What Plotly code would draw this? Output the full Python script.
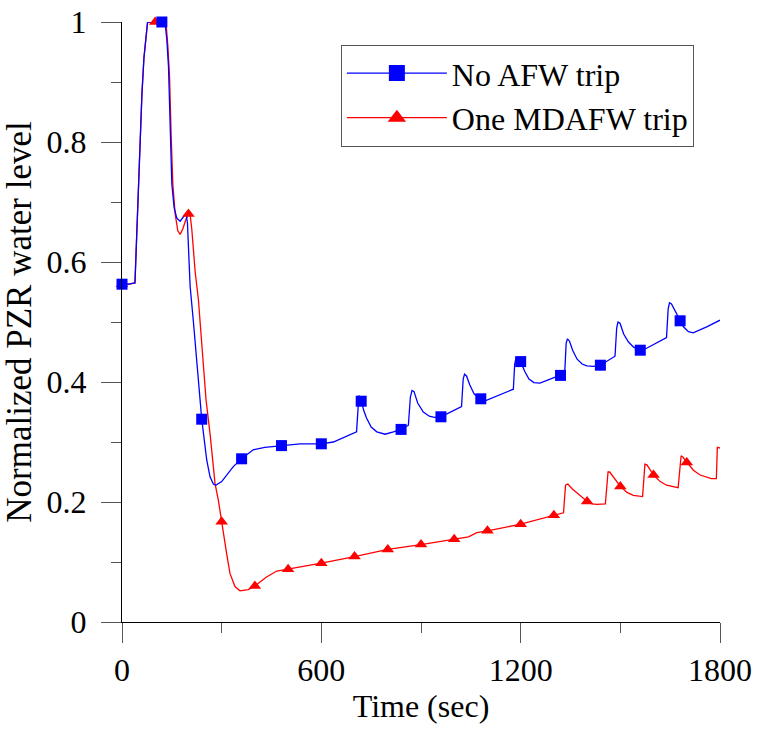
import plotly.graph_objects as go

# ---- data ----
blue_t = [0, 20, 39, 44, 50, 54, 60, 66, 72, 77, 100, 120, 130, 135, 140, 145, 150, 157, 165, 175,
          185, 193, 197, 205, 215, 228, 240, 255, 265, 275, 282, 300, 335, 360, 395, 430, 480, 536,
          600, 636, 706, 710, 713, 717, 720, 728, 736, 750, 767, 792, 817, 840, 862, 868, 873, 879,
          890, 907, 925, 940, 960, 987, 1022, 1027, 1031, 1037, 1047, 1060, 1075, 1080, 1095, 1178,
          1182, 1186, 1192, 1200, 1212, 1225, 1240, 1258, 1308, 1320, 1333, 1337, 1341, 1347, 1357,
          1370, 1385, 1399, 1420, 1440, 1484, 1489, 1493, 1499, 1510, 1524, 1540, 1560, 1575, 1639,
          1644, 1648, 1654, 1664, 1674, 1680, 1690, 1705, 1719, 1760, 1800]
blue_v = [0.563, 0.563, 0.565, 0.648, 0.73, 0.80, 0.88, 0.94, 0.98, 1.0, 1.0, 1.0, 0.997, 0.97, 0.925,
          0.815, 0.73, 0.69, 0.673, 0.668, 0.675, 0.681, 0.665, 0.56, 0.50, 0.42, 0.338, 0.27, 0.242,
          0.230, 0.228, 0.234, 0.259, 0.272, 0.287, 0.291, 0.294, 0.297, 0.297, 0.300, 0.317, 0.365,
          0.377, 0.375, 0.368, 0.352, 0.340, 0.325, 0.317, 0.313, 0.317, 0.321, 0.328, 0.375, 0.386,
          0.384, 0.365, 0.350, 0.343, 0.341, 0.342, 0.350, 0.359, 0.405, 0.413, 0.410, 0.395, 0.380,
          0.373, 0.372, 0.369, 0.388, 0.430, 0.440, 0.440, 0.434, 0.418, 0.405, 0.399, 0.398, 0.409,
          0.411, 0.420, 0.465, 0.472, 0.468, 0.452, 0.438, 0.430, 0.427, 0.426, 0.428, 0.443, 0.490,
          0.500, 0.498, 0.480, 0.467, 0.458, 0.453, 0.455, 0.474, 0.522, 0.532, 0.530, 0.520, 0.509,
          0.502, 0.492, 0.484, 0.482, 0.492, 0.503]
blue_marker_t = [0, 120, 240, 360, 480, 600, 720, 840, 960, 1080, 1200, 1320, 1440, 1560, 1680]

red_t = [0, 20, 39, 44, 50, 54, 60, 66, 72, 77, 100, 133, 138, 143, 148, 153, 160, 168, 175, 183,
         193, 200, 204, 210, 220, 230, 253, 265, 280, 290, 300, 307, 315, 325, 340, 355, 380, 400,
         435, 466, 500, 600, 700, 800, 900, 1000, 1043, 1068, 1100, 1200, 1300, 1329, 1335, 1342,
         1355, 1379, 1400, 1415, 1429, 1455, 1463, 1468, 1484, 1500, 1520, 1539, 1567, 1574, 1580,
         1600, 1620, 1639, 1674, 1683, 1688, 1700, 1720, 1740, 1774, 1789, 1792, 1800]
red_v = [0.563, 0.563, 0.565, 0.648, 0.73, 0.80, 0.88, 0.94, 0.98, 1.0, 1.0, 0.995, 0.96, 0.91, 0.81,
         0.73, 0.68, 0.652, 0.646, 0.655, 0.672, 0.680, 0.684, 0.655, 0.585, 0.537, 0.37, 0.314,
         0.231, 0.203, 0.167, 0.137, 0.114, 0.081, 0.059, 0.052, 0.054, 0.060, 0.075, 0.085, 0.088,
         0.098, 0.109, 0.121, 0.129, 0.138, 0.142, 0.149, 0.152, 0.163, 0.178, 0.182, 0.228, 0.230,
         0.222, 0.211, 0.201, 0.197, 0.196, 0.197, 0.250, 0.250, 0.238, 0.226, 0.216, 0.211, 0.209,
         0.263, 0.262, 0.245, 0.234, 0.228, 0.224, 0.277, 0.275, 0.266, 0.253, 0.245, 0.239, 0.239,
         0.291, 0.290]
red_marker_t = [0, 100, 200, 300, 400, 500, 600, 700, 800, 900, 1000, 1100, 1200, 1300, 1400, 1500,
                1600, 1700]

x_ticks = [0, 600, 1200, 1800]
y_ticks = [0, 0.2, 0.4, 0.6, 0.8, 1]
y_tick_text = ["0", "0.2", "0.4", "0.6", "0.8", "1"]

name_blue = "No AFW trip"
name_red = "One MDAFW trip"

BLUE = "#0000FF"
RED = "#FF0000"
FONT = "Liberation Serif"


def pick(ts, vs, sel):
    xs, ys = [], []
    for t, v in zip(ts, vs):
        if t in sel:
            xs.append(t)
            ys.append(v)
    return xs, ys


bmx, bmy = pick(blue_t, blue_v, blue_marker_t)
rmx, rmy = pick(red_t, red_v, red_marker_t)

fig = go.Figure()
fig.add_trace(go.Scatter(x=red_t, y=red_v, mode="lines", line=dict(color=RED, width=1.3),
                         showlegend=False, legendgroup="r", hoverinfo="skip"))
fig.add_trace(go.Scatter(x=blue_t, y=blue_v, mode="lines", line=dict(color=BLUE, width=1.3),
                         showlegend=False, legendgroup="b", hoverinfo="skip"))
fig.add_trace(go.Scatter(x=rmx, y=rmy, mode="markers", cliponaxis=False,
                         marker=dict(symbol="triangle-up", size=11, color=RED),
                         showlegend=False, legendgroup="r"))
fig.add_trace(go.Scatter(x=bmx, y=bmy, mode="markers", cliponaxis=False,
                         marker=dict(symbol="square", size=11, color=BLUE),
                         showlegend=False, legendgroup="b"))
# legend entries
fig.add_trace(go.Scatter(x=[None], y=[None], mode="lines+markers", name=name_blue, legendgroup="b",
                         line=dict(color=BLUE, width=1.3),
                         marker=dict(symbol="square", size=16, color=BLUE)))
fig.add_trace(go.Scatter(x=[None], y=[None], mode="lines+markers", name=name_red, legendgroup="r",
                         line=dict(color=RED, width=1.3),
                         marker=dict(symbol="triangle-up", size=16, color=RED)))

axis_common = dict(showgrid=False, zeroline=False, showline=True, linecolor="black", linewidth=1,
                   ticks="outside", ticklen=20, tickwidth=1, tickcolor="#555555", automargin=False,
                   tickfont=dict(family=FONT, size=32, color="black"))

fig.update_xaxes(range=[0, 1800], tickvals=x_ticks, **axis_common,
                 minor=dict(ticks="outside", ticklen=10, tickwidth=1, tickcolor="#555555", dtick=300),
                 title=dict(text="Time (sec)", font=dict(family=FONT, size=32, color="black"),
                            standoff=0))
fig.update_yaxes(range=[0, 1], tickvals=y_ticks, ticktext=y_tick_text, **axis_common,
                 ticklabelstandoff=8,
                 minor=dict(ticks="outside", ticklen=10, tickwidth=1, tickcolor="#555555", dtick=0.1),
                 title=dict(text="Normalized PZR water level",
                            font=dict(family=FONT, size=35, color="black"), standoff=4))

fig.update_layout(
    width=758, height=729,
    margin=dict(l=122, r=38, t=22, b=107),
    paper_bgcolor="white", plot_bgcolor="white",
    font=dict(family=FONT, size=32, color="black"),
    legend=dict(x=0.366, y=0.962, xanchor="left", yanchor="top",
                bgcolor="white", bordercolor="#555555", borderwidth=1,
                font=dict(family=FONT, size=32, color="black"),
                itemwidth=100, tracegroupgap=0),
    showlegend=True,
)

fig.write_html("out.html")
